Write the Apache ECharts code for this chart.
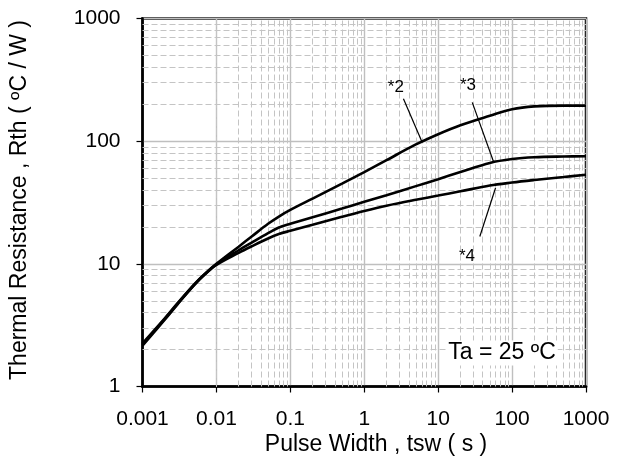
<!DOCTYPE html>
<html>
<head>
<meta charset="utf-8">
<script src="https://cdn.jsdelivr.net/npm/echarts@6/dist/echarts.min.js"></script>
<style>html,body{margin:0;padding:0;background:#fff;}#c{width:617px;height:467px;}</style>
</head>
<body>
<div id="c"></div>
<script>
// ---- data ----
var pulseWidth = [0.001,0.002,0.003,0.005,0.007,0.01,0.02,0.03,0.05,0.07,0.1,0.2,0.5,1,2,5,10,20,50,100,200,500,1000];
var rth2 = [2.25,3.6,4.8,6.8,8.3,10,13.8,16.7,21.2,24.3,27.5,34,45,56,70,94,114,135,161,182,192,195,195];
var rth3 = [2.2,3.55,4.75,6.75,8.25,9.9,12.9,14.9,17.8,19.8,21.2,24,28.2,32,36.2,43,49,56,66.5,71.5,74,75,75.3];
var rth4 = [2.15,3.5,4.7,6.7,8.2,9.8,12.3,13.9,16.1,17.5,18.6,20.8,24.2,27,29.8,33.3,36,39,43.5,46,48.2,51,53.3];
var xTickLabels = ['0.001','0.01','0.1','1','10','100','1000'];
var yTickLabels = ['1','10','100','1000'];
var xDecades = [0.001,0.01,0.1,1,10,100];
var yDecades = [1,10,100];
var minorMultipliers = [2,3,4,5,6,7,8,9];

// annotation anchors (data space)
var leader2 = [[3.39,222],[6.07,97.8]];
var leader3 = [[28.9,207],[56.6,67.1]];
var leader4 = [[36.6,16.7],[59.7,41.5]];
var label2 = [2.68,273], label3 = [25.3,284], label4 = [24.5,11.5], labelTa = [73.1,1.877];

function pairs(xs, ys){ return xs.map(function(x,i){ return [x, ys[i]]; }); }

var minorLines = [];
xDecades.forEach(function(d){ minorMultipliers.forEach(function(m){ minorLines.push({xAxis: +(d*m).toPrecision(3)}); }); });
yDecades.forEach(function(d){ minorMultipliers.forEach(function(m){ minorLines.push({yAxis: +(d*m).toPrecision(3)}); }); });

var FONT = 'Liberation Sans';
var chart = echarts.init(document.getElementById('c'), null, {renderer:'canvas'});

function fmt(v){ return String(+Number(v).toPrecision(1)); }

var curveStyle = {color:'#000', width:2.6};

chart.setOption({
  animation:false,
  backgroundColor:'#fff',
  grid:{left:142.5, right:31, top:18.5, bottom:80.5, show:true, borderColor:'#000', borderWidth:2.5, backgroundColor:'transparent'},
  xAxis:{
    type:'log', logBase:10, min:0.001, max:1000,
    axisLine:{show:true, onZero:false, lineStyle:{color:'#000', width:2.5}},
    axisTick:{show:true, inside:false, length:6, lineStyle:{color:'#000', width:1.2}},
    axisLabel:{margin:22, color:'#000', fontFamily:FONT, fontSize:21, formatter:function(v){ var s=fmt(v); return xTickLabels.indexOf(s)>=0?s:''; }},
    splitLine:{show:true, lineStyle:{color:'#bfbfbf', width:1.4}},
    minorTick:{show:false}, minorSplitLine:{show:false}
  },
  yAxis:{
    type:'log', logBase:10, min:1, max:1000,
    axisLine:{show:true, onZero:false, lineStyle:{color:'#000', width:2.5}},
    axisTick:{show:true, inside:false, length:6, lineStyle:{color:'#000', width:1.2}},
    axisLabel:{margin:22, color:'#000', fontFamily:FONT, fontSize:21, formatter:function(v){ var s=fmt(v); return yTickLabels.indexOf(s)>=0?s:''; }},
    splitLine:{show:true, lineStyle:{color:'#bfbfbf', width:1.4}}
  },
  graphic:[
    {type:'text', style:{text:'Pulse Width , tsw ( s )', font:'23px "Liberation Sans"', fill:'#000', textAlign:'center', textVerticalAlign:'middle'}, position:[376,445], z:100},
    {type:'text', rotation:Math.PI/2, position:[20,200], style:{text:'Thermal Resistance , Rth ( \u00baC / W )', font:'23px "Liberation Sans"', fill:'#000', textAlign:'center', textVerticalAlign:'middle'}, z:100}
  ],
  series:[
    {
      type:'line', data:[], z:1, silent:true,
      markLine:{silent:true, symbol:['none','none'], animation:false, label:{show:false},
        lineStyle:{color:'#c4c4c4', width:1, type:[6,3]}, emphasis:{disabled:true}, data:minorLines}
    },
    {type:'line', name:'*2', data:pairs(pulseWidth, rth2), smooth:0.35, showSymbol:false, lineStyle:curveStyle, z:5},
    {type:'line', name:'*3', data:pairs(pulseWidth, rth3), smooth:0.35, showSymbol:false, lineStyle:curveStyle, z:5},
    {type:'line', name:'*4', data:pairs(pulseWidth, rth4), smooth:0.35, showSymbol:false, lineStyle:curveStyle, z:5},
    {
      type:'line', data:[], z:6, silent:true,
      markLine:{silent:true, symbol:['none','none'], animation:false, label:{show:false},
        lineStyle:{color:'#000', width:1.2, type:'solid'}, emphasis:{disabled:true},
        data:[
          [{coord:leader2[0]},{coord:leader2[1]}],
          [{coord:leader3[0]},{coord:leader3[1]}],
          [{coord:leader4[0]},{coord:leader4[1]}]
        ]},
      markPoint:{silent:true, symbol:'circle', symbolSize:0, animation:false,
        label:{show:true, position:'inside', color:'#000', fontFamily:FONT, fontSize:17},
        data:[
          {coord:label2, value:'*2', label:{formatter:'*2'}},
          {coord:label3, value:'*3', label:{formatter:'*3'}},
          {coord:label4, value:'*4', label:{formatter:'*4'}},
          {coord:labelTa, value:'Ta', label:{fontSize:23, formatter:'Ta = 25 \u00baC', backgroundColor:'#fff', padding:[1,2]}}
        ]}
    }
  ]
});
</script>
</body>
</html>
